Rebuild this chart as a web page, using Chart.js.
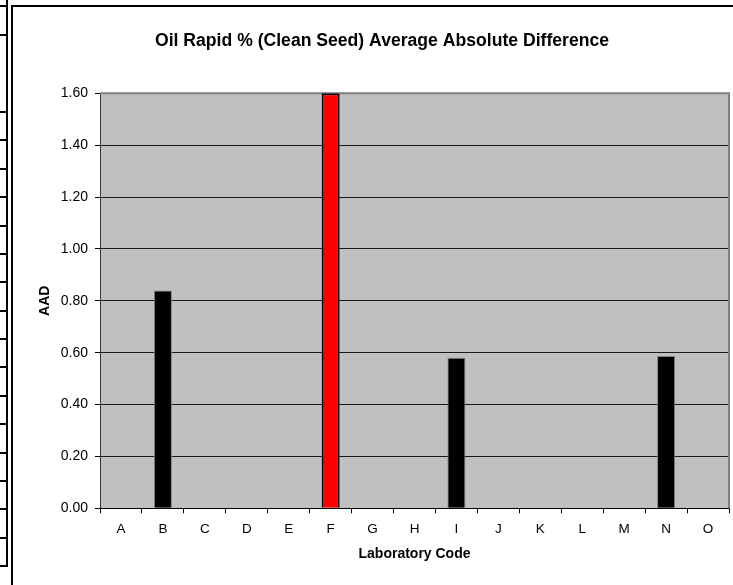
<!DOCTYPE html>
<html><head><meta charset="utf-8">
<script src="https://cdn.jsdelivr.net/npm/chart.js@4"></script>
<style>
html,body{margin:0;padding:0;background:#fff;overflow:hidden}
#wrap{position:relative;width:733px;height:585px;overflow:hidden}
canvas{position:absolute;left:0;top:0}
.ln{position:absolute;background:#000}
#frame{position:absolute;left:11px;top:5px;width:900px;height:900px;border-left:2px solid #000;border-top:2px solid #000;box-sizing:border-box}
</style></head><body>
<div id="wrap">
<div id="frame"></div>
<canvas id="c" width="733" height="585"></canvas>
</div>
<script>
// ---- data ----
const categories = ['A','B','C','D','E','F','G','H','I','J','K','L','M','N','O'];
const aadValues  = [null, 0.84, null, null, null, 1.60, null, null, 0.58, null, null, null, null, 0.587, null];
const highlightLab = 'F';
const yMin = 0, yMax = 1.6, yStep = 0.2;
const chartTitle = 'Oil Rapid % (Clean Seed) Average Absolute Difference';
const xTitle = 'Laboratory Code';
const yTitle = 'AAD';

// ---- left spreadsheet fragment (decoration) ----
(function(){
  const wrap = document.getElementById('wrap');
  function add(l,t,w,h){const d=document.createElement('div');d.className='ln';d.style.left=l+'px';d.style.top=t+'px';d.style.width=w+'px';d.style.height=h+'px';wrap.appendChild(d);}
  add(6,0,2,566);
  const rows=[5,34];
  for(let k=0;k<=16;k++) rows.push(Math.round(111+28.375*k));
  rows.forEach(y=>add(0,y,8,2));
})();

Chart.defaults.font.family = '"Liberation Sans", Arial, sans-serif';
Chart.defaults.color = '#000';

const plotArea = {
  id:'plotArea',
  beforeDraw(chart){
    const {ctx, chartArea:a} = chart;
    ctx.save(); ctx.fillStyle='#C0C0C0';
    ctx.fillRect(a.left,a.top,a.right-a.left,a.bottom-a.top);
    ctx.restore();
  },
  beforeDatasetsDraw(chart){
    const {ctx, chartArea:a} = chart;
    ctx.save(); ctx.strokeStyle='#808080'; ctx.lineWidth=2;
    ctx.beginPath();
    ctx.moveTo(a.left,a.top); ctx.lineTo(a.right,a.top); ctx.lineTo(a.right,a.bottom);
    ctx.stroke(); ctx.restore();
  }
};

new Chart(document.getElementById('c'), {
  type:'bar',
  data:{
    labels:categories,
    datasets:[{
      data:aadValues,
      backgroundColor:categories.map(c=>c===highlightLab?'#FF0000':'#000000'),
      borderColor:categories.map(c=>c===highlightLab?'#000000':'#808080'),
      borderWidth:categories.map(c=>c===highlightLab?2:1),
      categoryPercentage:1,
      barPercentage:0.43
    }]
  },
  options:{
    responsive:false, animation:false, devicePixelRatio:1,
    layout:{padding:{left:35,right:4,top:0,bottom:0}},
    plugins:{
      legend:{display:false}, tooltip:{enabled:false},
      title:{display:true,text:chartTitle,color:'#000',
        font:{size:17.6,weight:'bold'},padding:{top:30.6,bottom:41.6}}
    },
    scales:{
      x:{
        afterFit(s){s.height=76.7;},
        grid:{offset:true,drawOnChartArea:false,tickLength:5,tickColor:'#000'},
        border:{color:'#000',width:1},
        ticks:{font:{size:13.5},color:'#000',padding:8},
        title:{display:true,text:xTitle,font:{size:14,weight:'bold'},color:'#000',padding:{top:0,bottom:22}}
      },
      y:{
        min:yMin,max:yMax,
        afterFit(s){s.width=65;},
        grid:{color:c=>(c.tick && Math.abs(c.tick.value-yMax)<1e-9)?'rgba(0,0,0,0)':'#1a1a1a',tickLength:5,tickColor:'#000'},
        border:{color:'#333',width:1},
        ticks:{stepSize:yStep,font:{size:14},color:'#000',padding:7,callback:v=>Number(v).toFixed(2)},
        title:{display:true,text:yTitle,font:{size:14,weight:'bold'},color:'#000',padding:{top:1.6,bottom:0}}
      }
    }
  },
  plugins:[plotArea]
});
</script>
</body></html>
